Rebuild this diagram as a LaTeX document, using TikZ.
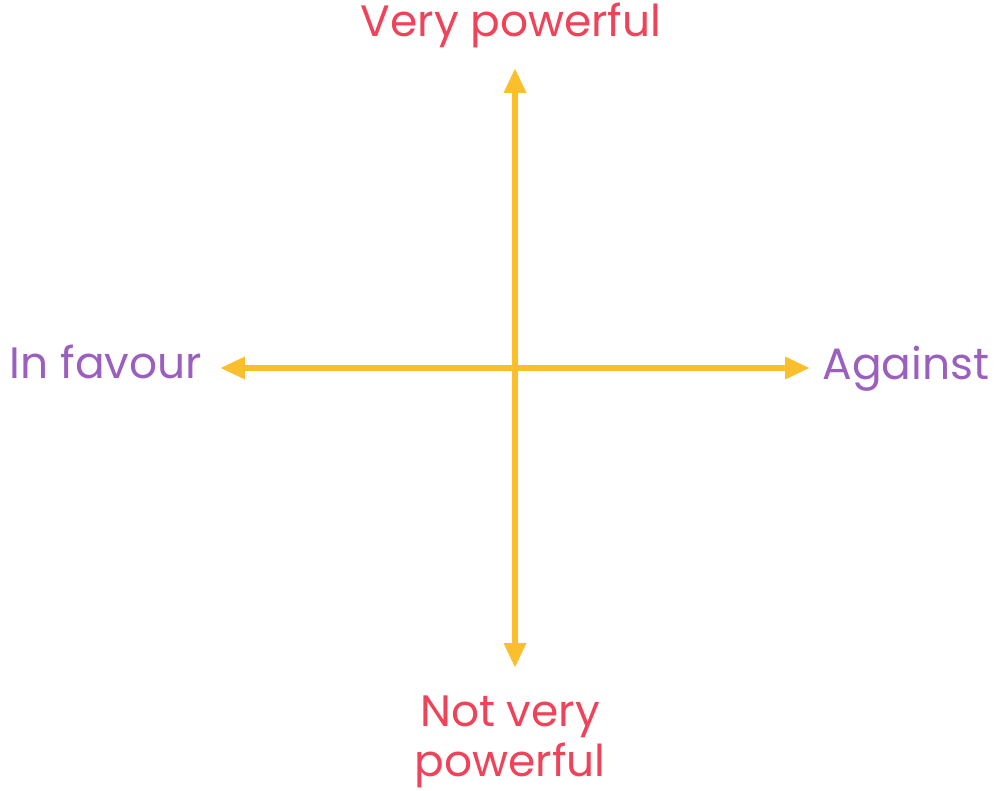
\documentclass[tikz,border=0pt]{standalone}
\usepackage{fontspec}
\setmainfont{Poppins}
\usetikzlibrary{arrows.meta}
\definecolor{axisyellow}{HTML}{FBBF2D}
\definecolor{powerred}{HTML}{EF4359}
\definecolor{sidepurple}{HTML}{9B5FC0}
\tikzset{
  axis/.style={draw=axisyellow, line width=3.6pt, -{Triangle[length=0.5cm,width=0.42cm]}},
  powerlbl/.style={text=powerred, font=\fontsize{25}{28.5}\selectfont, align=center, inner sep=0pt},
  sidelbl/.style={text=sidepurple, font=\fontsize{25}{29}\selectfont, inner sep=0pt}
}
\begin{document}
\begin{tikzpicture}[x=0.02cm, y=-0.02cm]
  \useasboundingbox (0,0) rectangle (1001,791);
  \coordinate (O) at (515,368);
  \coordinate (T) at (515,68); \coordinate (D) at (515,668);
  \coordinate (L) at (220,368); \coordinate (R) at (810,368);
  \draw[axis] (O) -- (T);
  \draw[axis] (O) -- (D);
  \draw[axis] (O) -- (L);
  \draw[axis] (O) -- (R);
  \node[powerlbl] (vp) at (511,25) {Very powerful};
  \node[powerlbl] (nvp) at (510,742) {Not very\\powerful};
  \node[sidelbl] (fav) at (106,362) {In favour};
  \node[sidelbl] (ag) at (906,369) {Against};
\end{tikzpicture}
\end{document}
